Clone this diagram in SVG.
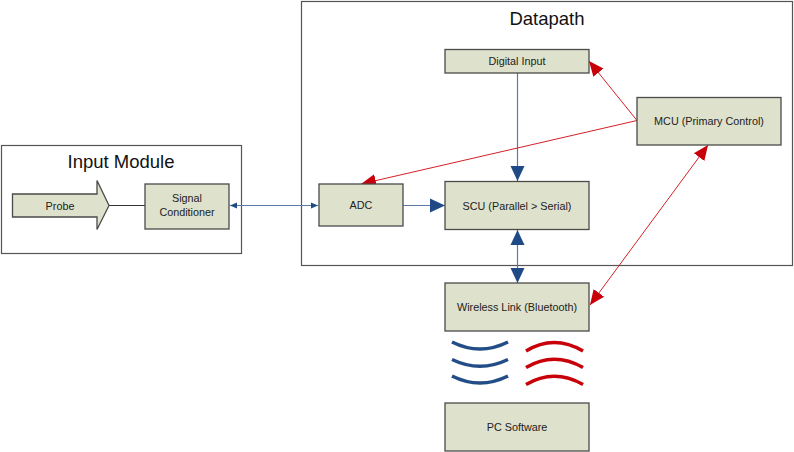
<svg xmlns="http://www.w3.org/2000/svg" width="794" height="452" viewBox="0 0 794 452">
<defs>
<style>
.node rect,.node path{fill:#dee1cb;stroke:#4a4a4a;stroke-width:1.3}
.t{font-family:"Liberation Sans",Arial,sans-serif;font-size:10.8px;fill:#222;text-anchor:middle;dominant-baseline:central}
.title{font-family:"Liberation Sans",Arial,sans-serif;font-size:18.5px;fill:#111;text-anchor:middle;dominant-baseline:central}
.cont{fill:#fff;stroke:#555;stroke-width:1.2}
.blue{stroke:#5a7aa6;stroke-width:1.2;fill:none}
.red{stroke:#d42027;stroke-width:1;fill:none}
.wb{stroke:#234d86;stroke-width:3.5;fill:none;stroke-linecap:butt}
.wr{stroke:#c8000a;stroke-width:3.5;fill:none;stroke-linecap:butt}
</style>
<marker id="bb" markerUnits="userSpaceOnUse" markerWidth="16" markerHeight="16" viewBox="0 0 16 16" refX="15" refY="8" orient="auto-start-reverse"><path d="M0,1 L15,8 L0,15 Z" fill="#1f4a85"/></marker>
<marker id="bs" markerUnits="userSpaceOnUse" markerWidth="8" markerHeight="8" viewBox="0 0 8 8" refX="7" refY="4" orient="auto-start-reverse"><path d="M0,1 L7,4 L0,7 Z" fill="#1f4a85"/></marker>
<marker id="rb" markerUnits="userSpaceOnUse" markerWidth="16" markerHeight="16" viewBox="0 0 16 16" refX="15" refY="8" orient="auto-start-reverse"><path d="M0,1.5 L15,8 L0,14.5 Z" fill="#c8000a"/></marker>
</defs>
<rect width="794" height="452" fill="#fff"/>
<g id="input-module"><rect class="cont" x="1.5" y="145.5" width="240" height="108"/><text class="title" x="121" y="161">Input Module</text></g>
<g id="datapath"><rect class="cont" x="301.5" y="1.5" width="491" height="264"/><text class="title" x="547" y="18">Datapath</text></g>
<g id="connectors">
<line x1="109" y1="205.5" x2="145" y2="205.5" stroke="#333" stroke-width="1"/>
<line class="blue" x1="230" y1="205.5" x2="318" y2="205.5" marker-start="url(#bs)" marker-end="url(#bs)"/>
<line class="blue" x1="403" y1="205.5" x2="445" y2="205.5" marker-end="url(#bb)"/>
<line class="blue" x1="517.5" y1="73" x2="517.5" y2="181" marker-end="url(#bb)"/>
<line class="blue" x1="517.5" y1="230" x2="517.5" y2="283" marker-start="url(#bb)" marker-end="url(#bb)"/>
<line class="red" x1="637" y1="120.5" x2="589" y2="61" marker-end="url(#rb)"/>
<line class="red" x1="637" y1="120.5" x2="361" y2="184" marker-end="url(#rb)"/>
<line class="red" x1="708" y1="145" x2="590" y2="305" marker-start="url(#rb)" marker-end="url(#rb)"/>
</g>
<g id="probe" class="node"><path d="M12.5,194 H97 V180.5 L109,205.5 L97,229.5 V217 H12.5 Z"/><text class="t" x="60" y="205.5">Probe</text></g>
<g id="signal-conditioner" class="node"><rect x="145" y="184" width="84" height="45"/><text class="t" x="187" y="198">Signal</text><text class="t" x="187" y="212">Conditioner</text></g>
<g id="adc" class="node"><rect x="319" y="184" width="84" height="42"/><text class="t" x="361" y="205">ADC</text></g>
<g id="scu" class="node"><rect x="445" y="181.5" width="144" height="48"/><text class="t" x="517" y="205.5">SCU (Parallel &gt; Serial)</text></g>
<g id="digital-input" class="node"><rect x="445" y="49.5" width="144" height="23.5"/><text class="t" x="517" y="61">Digital Input</text></g>
<g id="mcu" class="node"><rect x="637" y="97.5" width="144" height="47.5"/><text class="t" x="709" y="121">MCU (Primary Control)</text></g>
<g id="wireless-link" class="node"><rect x="445" y="283" width="144" height="48"/><text class="t" x="517" y="307">Wireless Link (Bluetooth)</text></g>
<g id="pc-software" class="node"><rect x="445" y="403" width="144" height="48"/><text class="t" x="517" y="427">PC Software</text></g>
<g id="waves">
<path class="wb" d="M452,342 Q480,356 508,342"/>
<path class="wb" d="M452,359.5 Q480,373 508,359.5"/>
<path class="wb" d="M452,376 Q480,390 508,376"/>
<path class="wr" d="M526,351 Q554,334 583,351"/>
<path class="wr" d="M526,367.5 Q554,351 583,367.5"/>
<path class="wr" d="M526,384.5 Q554,368 583,384.5"/>
</g>
</svg>
